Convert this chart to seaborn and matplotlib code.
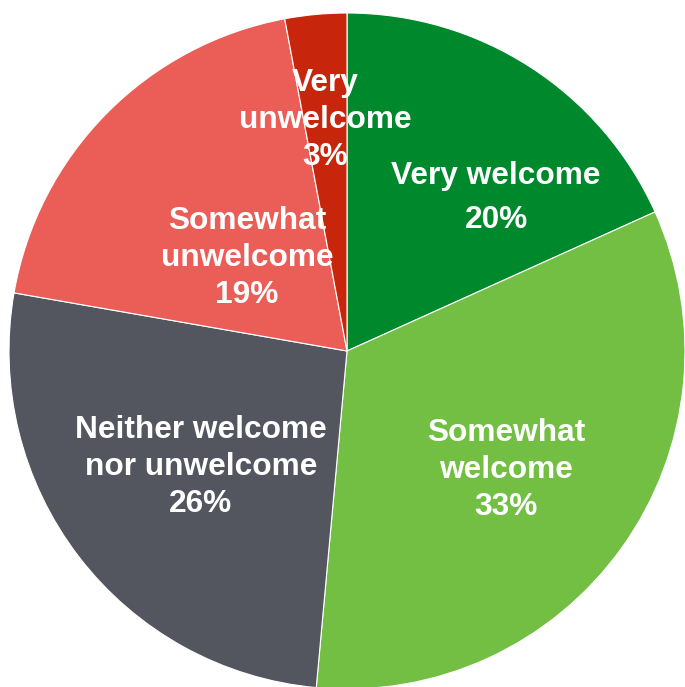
import matplotlib
matplotlib.use("Agg")
import matplotlib.pyplot as plt
import seaborn as sns

categories = ["Very welcome", "Somewhat\nwelcome", "Neither welcome\nnor unwelcome",
              "Somewhat\nunwelcome", "Very\nunwelcome"]
slice_sizes = [18.25, 33.2, 26.3, 19.3, 2.95]
pct_labels = ["20%", "33%", "26%", "19%", "3%"]
colors = ["#00892C", "#72BF44", "#53565E", "#EB5E58", "#C8260C"]

sns.set_style("white")
plt.rcParams['font.family'] = ['Liberation Sans', 'DejaVu Sans']

W, H = 685, 687
fig = plt.figure(figsize=(W / 100, H / 100), dpi=100)
ax = fig.add_axes([0, 0, 1, 1])

cx, cy, R = 347, H - 351, 338
wedges, _ = ax.pie(slice_sizes, colors=colors, startangle=90, counterclock=False,
                   center=(cx, cy), radius=R,
                   wedgeprops=dict(edgecolor="white", linewidth=0.8))
ax.set_xlim(0, W)
ax.set_ylim(0, H)
ax.set_aspect("equal")
ax.axis("off")

# label placement (fractions of radius from center)
offsets = [(0.441, 0.453), (0.470, -0.352), (-0.432, -0.343), (-0.296, 0.275), (-0.065, 0.683)]
spacing = [1.6, 1.3, 1.3, 1.3, 1.3]
for cat, pct, (ox, oy), ls in zip(categories, pct_labels, offsets, spacing):
    ax.text(cx + ox * R, cy + oy * R, f"{cat}\n{pct}", ha="center", va="center",
            color="white", fontsize=22.8, fontweight="bold", linespacing=ls)

fig.savefig("out.png", dpi=100)
